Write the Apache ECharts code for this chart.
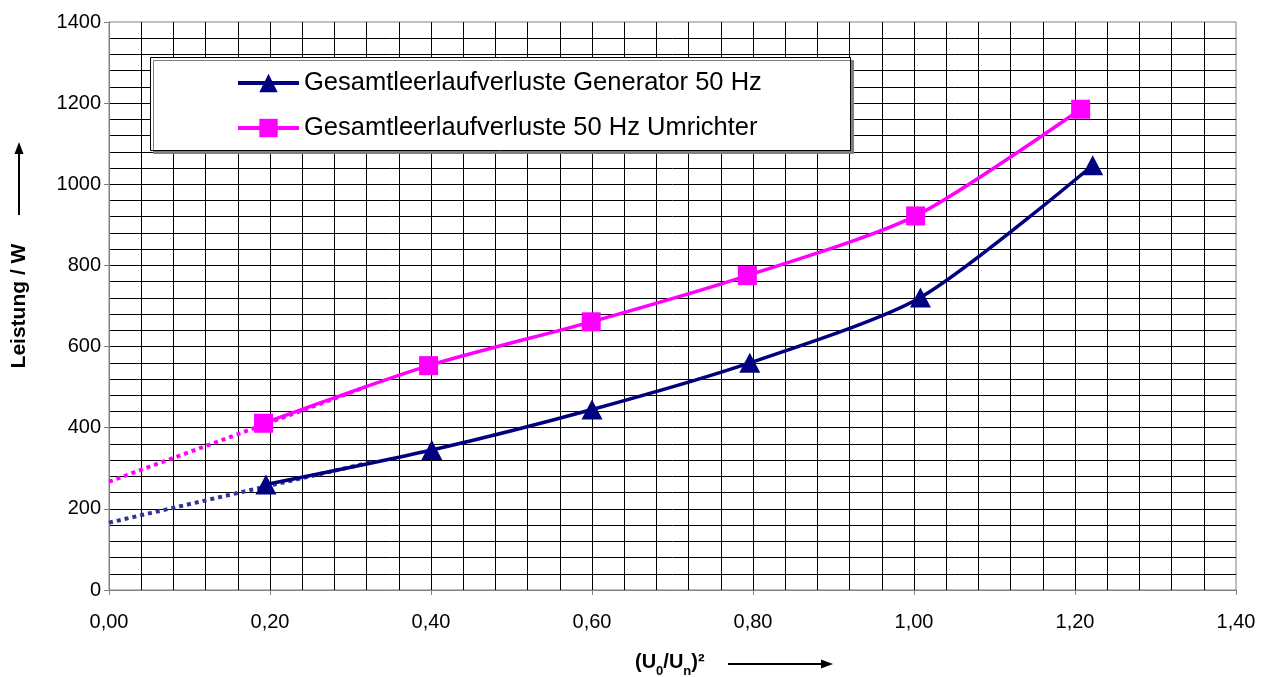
<!DOCTYPE html>
<html>
<head>
<meta charset="utf-8">
<script src="https://cdn.jsdelivr.net/npm/echarts@6/dist/echarts.min.js"></script>
<style>
html,body{margin:0;padding:0;background:#fff;}
#c{width:1268px;height:677px;}
</style>
</head>
<body>
<div id="c"></div>
<script>
// ---- data ----
const seriesNames = ['Gesamtleerlaufverluste Generator 50 Hz', 'Gesamtleerlaufverluste 50 Hz Umrichter'];
const genX = [0.195, 0.401, 0.600, 0.796, 1.008, 1.222];
const genY = [260, 345, 445, 560, 721, 1047];
const umrX = [0.192, 0.397, 0.599, 0.793, 1.002, 1.207];
const umrY = [411, 553, 661, 775, 922, 1185];
const genTrendX = [0, 0.328];
const genTrendY = [166, 316];
const umrTrendX = [0, 0.32];
const umrTrendY = [267, 501];
const yTitle = 'Leistung / W';
// x title pieces: [text, isSubscript]
const xTitleParts = [['(U', false], ['0', true], ['/U', false], ['n', true], [')²', false]];

const zip = (xs, ys) => xs.map((x, i) => [x, ys[i]]);
const FONT = '"Liberation Sans", Arial, sans-serif';

// build x-axis title as positioned text pieces
const measureCtx = document.createElement('canvas').getContext('2d');
const xTitleGraphics = [];
let cx = 635;
xTitleParts.forEach(([t, sub]) => {
  const font = 'bold ' + (sub ? 13 : 20) + 'px ' + FONT;
  measureCtx.font = font;
  xTitleGraphics.push({type: 'text', x: cx, y: sub ? 671 : 662, z: 5,
    style: {text: t, fill: '#000', font: font, align: 'left', verticalAlign: 'middle'}});
  cx += measureCtx.measureText(t).width;
});

const chart = echarts.init(document.getElementById('c'), null, {renderer: 'canvas'});
chart.setOption({
  animation: false,
  backgroundColor: '#fff',
  grid: {left: 109, right: 32, top: 22, bottom: 87, show: true, borderColor: '#808080', borderWidth: 1, backgroundColor: 'transparent'},
  xAxis: {
    type: 'value', min: 0, max: 1.4, interval: 0.2,
    axisLine: {show: true, onZero: false, lineStyle: {color: '#808080', width: 1}},
    axisTick: {show: true, inside: false, length: 5, lineStyle: {color: '#808080'}},
    axisLabel: {color: '#000', fontSize: 20, fontFamily: FONT, margin: 22,
      formatter: v => v.toFixed(2).replace('.', ',')},
    splitLine: {show: true, showMinLine: false, showMaxLine: false, lineStyle: {color: '#000', width: 1}},
    minorTick: {show: false, splitNumber: 5},
    minorSplitLine: {show: true, lineStyle: {color: '#000', width: 1}}
  },
  yAxis: {
    type: 'value', min: 0, max: 1400, interval: 200,
    axisLine: {show: true, lineStyle: {color: '#808080', width: 1}},
    axisTick: {show: true, inside: false, length: 5, lineStyle: {color: '#808080'}},
    axisLabel: {color: '#000', fontSize: 20, fontFamily: FONT, margin: 8, formatter: v => String(v)},
    splitLine: {show: true, showMinLine: false, showMaxLine: false, lineStyle: {color: '#000', width: 1}},
    minorTick: {show: false, splitNumber: 5},
    minorSplitLine: {show: true, lineStyle: {color: '#000', width: 1}}
  },
  legend: {
    orient: 'vertical', left: 236, top: 70, padding: 0, itemWidth: 61, itemHeight: 23, itemGap: 19,
    data: seriesNames,
    lineStyle: {width: 4},
    textStyle: {color: '#000', fontSize: 25.5, fontFamily: FONT},
    z: 20
  },
  graphic: [
    {type: 'rect', z: 10, shape: {x: 150.5, y: 57.5, width: 700, height: 93},
      style: {fill: '#fff', stroke: '#000', lineWidth: 1, shadowColor: '#808080', shadowOffsetX: 3, shadowOffsetY: 3, shadowBlur: 0}},
    // y axis title + arrow
    {type: 'text', rotation: Math.PI / 2, x: 19, y: 306, z: 5,
      style: {text: yTitle, fill: '#000', font: 'bold 21px ' + FONT, align: 'center', verticalAlign: 'middle'}},
    {type: 'line', z: 5, shape: {x1: 19, y1: 215, x2: 19, y2: 152}, style: {stroke: '#000', lineWidth: 2}},
    {type: 'polygon', z: 5, shape: {points: [[19, 142], [14.5, 154], [23.5, 154]]}, style: {fill: '#000'}},
    ...xTitleGraphics,
    {type: 'line', z: 5, shape: {x1: 728, y1: 664, x2: 822, y2: 664}, style: {stroke: '#000', lineWidth: 2}},
    {type: 'polygon', z: 5, shape: {points: [[833, 664], [821, 659.5], [821, 668.5]]}, style: {fill: '#000'}}
  ],
  series: [
    {
      name: seriesNames[0], type: 'line', data: zip(genX, genY), smooth: 0.25,
      symbol: 'triangle', symbolSize: [21, 20], z: 4,
      lineStyle: {color: '#000080', width: 3.5}, itemStyle: {color: '#000080'}
    },
    {
      name: seriesNames[1], type: 'line', data: zip(umrX, umrY), smooth: 0.25,
      symbol: 'rect', symbolSize: 19, z: 4,
      lineStyle: {color: '#ff00ff', width: 3.5}, itemStyle: {color: '#ff00ff'}
    },
    {
      name: 'trendGen', type: 'line', data: zip(genTrendX, genTrendY), showSymbol: false, symbol: 'none', z: 3,
      lineStyle: {color: '#333399', width: 4, type: [4, 4]}, silent: true
    },
    {
      name: 'trendUmr', type: 'line', data: zip(umrTrendX, umrTrendY), showSymbol: false, symbol: 'none', z: 3,
      lineStyle: {color: '#ff00ff', width: 4, type: [4, 4]}, silent: true
    }
  ]
});
</script>
</body>
</html>
